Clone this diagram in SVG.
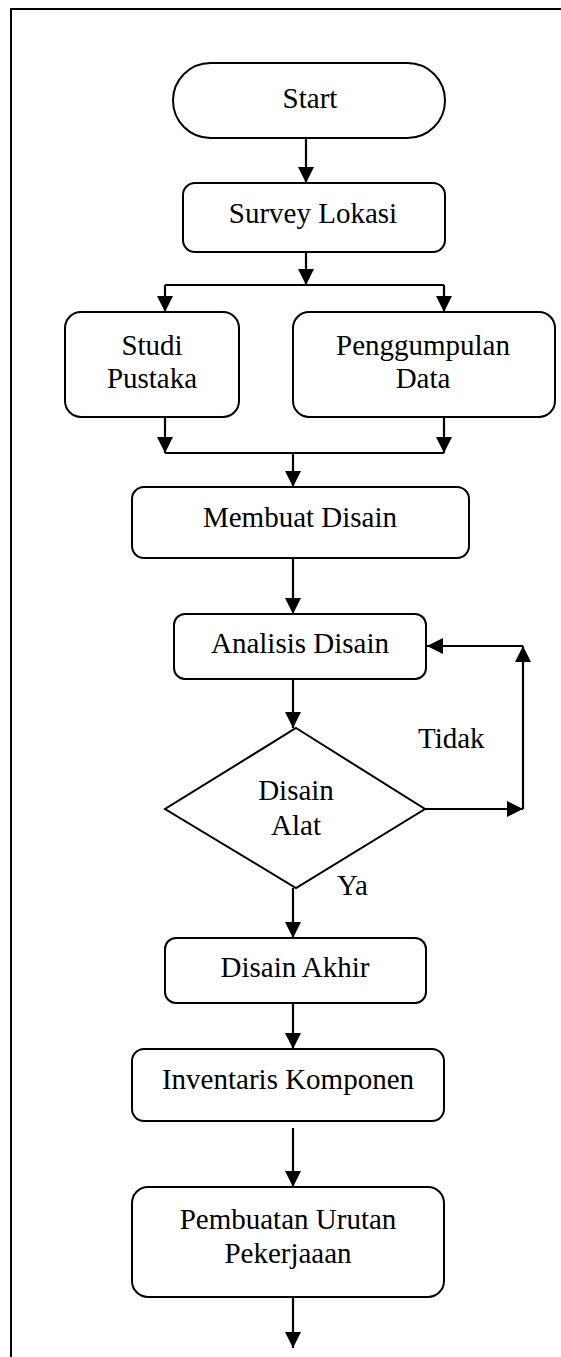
<svg xmlns="http://www.w3.org/2000/svg" width="561" height="1357" viewBox="0 0 561 1357">
<style>
.box{fill:#fff;stroke:#000;stroke-width:2}
.ln{fill:none;stroke:#000;stroke-width:2.2}
.t{font-family:"Liberation Serif","Times New Roman",serif;font-size:29px;fill:#000;text-anchor:middle}
.l{font-family:"Liberation Serif","Times New Roman",serif;font-size:29px;fill:#000}
</style>
<defs>
<marker id="ah" viewBox="0 0 16 16" refX="16" refY="8" markerWidth="16" markerHeight="16" markerUnits="userSpaceOnUse" orient="auto">
<path d="M0,0 L16,8 L0,16 Z" fill="#000"/>
</marker>
</defs>
<rect x="11" y="9" width="600" height="1400" fill="none" stroke="#000" stroke-width="2"/>
<g id="connectors">
<path class="ln" d="M306,138 V183" marker-end="url(#ah)"/>
<path class="ln" d="M306,252 V285" marker-end="url(#ah)"/>
<path class="ln" d="M165,285 H444"/>
<path class="ln" d="M165,285 V312" marker-end="url(#ah)"/>
<path class="ln" d="M444,285 V312" marker-end="url(#ah)"/>
<path class="ln" d="M165,417 V453" marker-end="url(#ah)"/>
<path class="ln" d="M444,417 V453" marker-end="url(#ah)"/>
<path class="ln" d="M165,453 H444"/>
<path class="ln" d="M293,453 V487" marker-end="url(#ah)"/>
<path class="ln" d="M293,558 V614" marker-end="url(#ah)"/>
<path class="ln" d="M293,679 V728" marker-end="url(#ah)"/>
<path class="ln" d="M425,809 H523" marker-end="url(#ah)"/>
<path class="ln" d="M523,809 V646" marker-end="url(#ah)"/>
<path class="ln" d="M523,646 H427" marker-end="url(#ah)"/>
<path class="ln" d="M293,888 V938" marker-end="url(#ah)"/>
<path class="ln" d="M293,1003 V1049" marker-end="url(#ah)"/>
<path class="ln" d="M293,1128 V1187" marker-end="url(#ah)"/>
<path class="ln" d="M293,1297 V1348" marker-end="url(#ah)"/>
</g>
<g id="start">
<rect class="box" x="173" y="63" width="272" height="75" rx="37.5"/>
<text class="t" x="310" y="108">Start</text>
</g>
<g id="survey">
<rect class="box" x="183" y="183" width="262" height="69" rx="12"/>
<text class="t" x="313" y="223">Survey Lokasi</text>
</g>
<g id="studi">
<rect class="box" x="65" y="312" width="174" height="105" rx="16"/>
<text class="t" x="152" y="355">Studi</text>
<text class="t" x="152" y="388">Pustaka</text>
</g>
<g id="penggumpulan">
<rect class="box" x="293" y="312" width="262" height="105" rx="16"/>
<text class="t" x="423" y="355">Penggumpulan</text>
<text class="t" x="423" y="388">Data</text>
</g>
<g id="membuat">
<rect class="box" x="132" y="487" width="337" height="71" rx="12"/>
<text class="t" x="300" y="527">Membuat Disain</text>
</g>
<g id="analisis">
<rect class="box" x="174" y="614" width="252" height="65" rx="11"/>
<text class="t" x="300" y="653">Analisis Disain</text>
</g>
<g id="decision">
<polygon class="box" points="296,728 425,809 296,888 165,809"/>
<text class="t" x="296" y="800">Disain</text>
<text class="t" x="296" y="835">Alat</text>
</g>
<g id="labels">
<text class="l" x="418" y="748">Tidak</text>
<text class="l" x="337" y="895">Ya</text>
</g>
<g id="akhir">
<rect class="box" x="165" y="938" width="261" height="65" rx="11"/>
<text class="t" x="295" y="977">Disain Akhir</text>
</g>
<g id="inventaris">
<rect class="box" x="132" y="1049" width="312" height="72" rx="12"/>
<text class="t" x="288" y="1089">Inventaris Komponen</text>
</g>
<g id="pembuatan">
<rect class="box" x="132" y="1187" width="312" height="110" rx="16"/>
<text class="t" x="288" y="1229">Pembuatan Urutan</text>
<text class="t" x="288" y="1263">Pekerjaaan</text>
</g>
</svg>
